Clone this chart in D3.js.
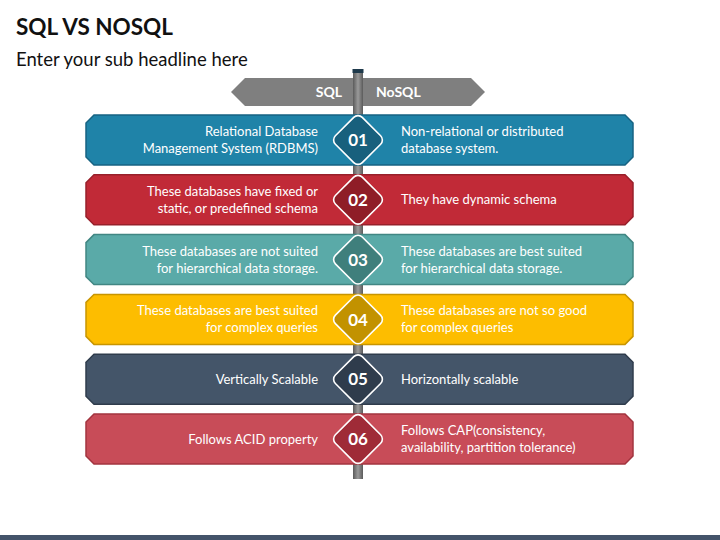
<!DOCTYPE html>
<html>
<head>
<meta charset="utf-8">
<script src="https://cdn.jsdelivr.net/npm/d3@7"></script>
<style>
  html, body { margin: 0; padding: 0; background: #fff; }
  svg { display: block; font-family: Lato, "Open Sans", sans-serif; }
</style>
</head>
<body>
<svg id="chart" width="720" height="540"></svg>
<script>
// rows of the comparison
var rowNumbers = ["01", "02", "03", "04", "05", "06"];
var sqlText = [
  ["Relational Database", "Management System (RDBMS)"],
  ["These databases have fixed or", "static, or predefined schema"],
  ["These databases are not suited", "for hierarchical data storage."],
  ["These databases are best suited", "for complex queries"],
  ["Vertically Scalable"],
  ["Follows ACID property"]
];
var noSqlText = [
  ["Non-relational or distributed", "database system."],
  ["They have dynamic schema"],
  ["These databases are best suited", "for hierarchical data storage."],
  ["These databases are not so good", "for complex queries"],
  ["Horizontally scalable"],
  ["Follows CAP(consistency,", "availability, partition tolerance)"]
];
var headerLabels = ["SQL", "NoSQL"];

// colours: bar fill, bar edge, diamond fill
var barFill = ["#1f83a8", "#c12a37", "#5aaaa8", "#fdbd00", "#445569", "#c84c58"];
var barEdge = ["#176382", "#98202b", "#418683", "#c89500", "#2f3c4c", "#a2343f"];
var diamondFill = ["#18607d", "#8f1d27", "#3f7f7c", "#c29200", "#2f3c4c", "#9f2b37"];

var svg = d3.select("#chart");
var W = 720, H = 540;

var y = d3.scaleBand().domain(rowNumbers).range([115, 464]).paddingInner(0.165);
var x = d3.scaleLinear().domain([0, 1]).range([86, 633]);
var cx = 358;

// title
svg.append("text").attr("x", 16).attr("y", 35)
  .style("font-size", "22.5px").style("font-weight", "bold").style("fill", "#111")
  .text("SQL VS NOSQL");
svg.append("text").attr("x", 16).attr("y", 66)
  .style("font-size", "18.5px").style("fill", "#111")
  .text("Enter your sub headline here");

// header arrow
var hx0 = 231, hx1 = 485, hy = 92, hh = 14;
svg.append("polygon")
  .attr("points", [[hx0, hy], [hx0 + hh, hy - hh], [hx1 - hh, hy - hh], [hx1, hy], [hx1 - hh, hy + hh], [hx0 + hh, hy + hh]].join(" "))
  .style("fill", "#7f7f7f");
svg.append("text").attr("x", cx - 16).attr("y", hy).attr("dy", "0.35em")
  .attr("text-anchor", "end")
  .style("font-size", "14px").style("font-weight", "bold").style("fill", "#fff")
  .text(headerLabels[0]);
svg.append("text").attr("x", cx + 18).attr("y", hy).attr("dy", "0.35em")
  .style("font-size", "14px").style("font-weight", "bold").style("fill", "#fff")
  .text(headerLabels[1]);

// pole
var grad = svg.append("defs").append("linearGradient").attr("id", "poleGrad")
  .attr("x1", "0").attr("x2", "1").attr("y1", "0").attr("y2", "0");
grad.append("stop").attr("offset", "0").attr("stop-color", "#5b5b5b");
grad.append("stop").attr("offset", "0.5").attr("stop-color", "#9a9a9a");
grad.append("stop").attr("offset", "1").attr("stop-color", "#5b5b5b");
svg.append("rect").attr("x", cx - 5).attr("y", 70).attr("width", 10).attr("height", 409)
  .style("fill", "url(#poleGrad)");
svg.append("rect").attr("x", cx - 5.5).attr("y", 69).attr("width", 11).attr("height", 4)
  .style("fill", "#1f3a4c");

// bars
var c = 8;
function barPath(i) {
  var x0 = x(0), x1 = x(1), y0 = y(rowNumbers[i]), y1 = y0 + y.bandwidth();
  return "M" + (x0 + c) + "," + y0 + "L" + (x1 - c) + "," + y0 + "L" + x1 + "," + (y0 + c) +
    "L" + x1 + "," + (y1 - c) + "L" + (x1 - c) + "," + y1 + "L" + (x0 + c) + "," + y1 +
    "L" + x0 + "," + (y1 - c) + "L" + x0 + "," + (y0 + c) + "Z";
}

var rows = svg.selectAll("g.row").data(rowNumbers).enter().append("g").attr("class", "row");

rows.append("path")
  .attr("d", function(d, i) { return barPath(i); })
  .style("fill", function(d, i) { return barFill[i]; })
  .style("stroke", function(d, i) { return barEdge[i]; })
  .style("stroke-width", 1.5);

function addLines(sel, lines, tx, anchor, cy) {
  var lh = 17;
  var t = sel.append("text").attr("text-anchor", anchor)
    .style("font-size", "13px").style("fill", "#fff");
  lines.forEach(function(l, k) {
    t.append("tspan").attr("x", tx)
      .attr("y", cy + (k - (lines.length - 1) / 2) * lh)
      .attr("dy", "0.35em").text(l);
  });
}

rows.each(function(d, i) {
  var g = d3.select(this);
  var cy = y(d) + y.bandwidth() / 2;
  addLines(g, sqlText[i], 318, "end", cy);
  addLines(g, noSqlText[i], 401, "start", cy);
  g.append("rect")
    .attr("x", -19).attr("y", -19).attr("width", 38).attr("height", 38)
    .attr("rx", 6).attr("ry", 6)
    .attr("transform", "translate(" + cx + "," + cy + ") rotate(45)")
    .style("fill", diamondFill[i]).style("stroke", "#fff").style("stroke-width", 1.6);
  g.append("text").attr("x", cx).attr("y", cy).attr("dy", "0.36em")
    .attr("text-anchor", "middle")
    .style("font-size", "17px").style("font-weight", "bold").style("fill", "#fff")
    .text(d);
});

// footer band
svg.append("rect").attr("x", 0).attr("y", 535).attr("width", W).attr("height", 5)
  .style("fill", "#44546a");
</script>
</body>
</html>
